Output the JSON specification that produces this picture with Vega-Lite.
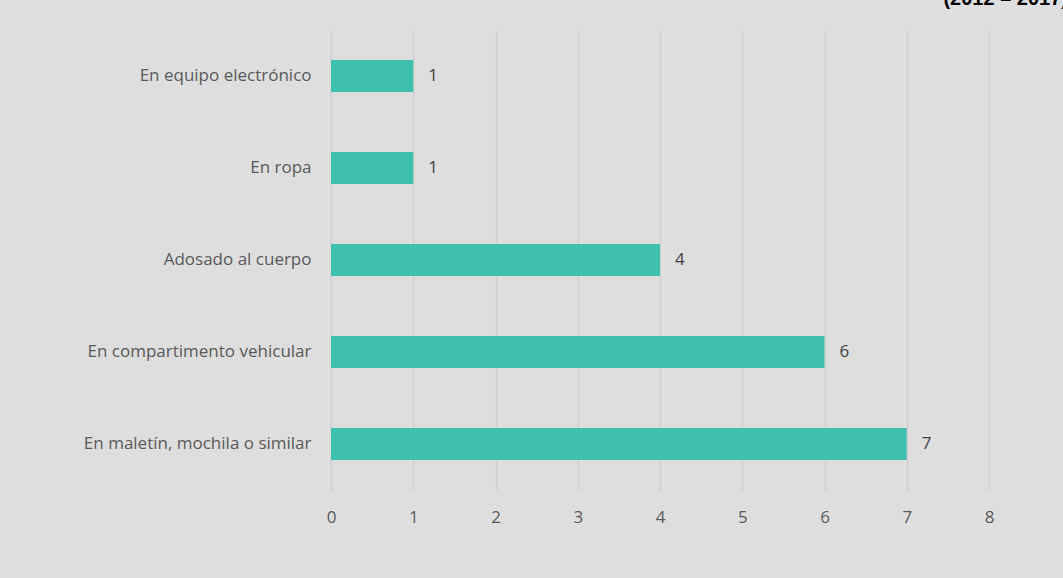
{
  "$schema": "https://vega.github.io/schema/vega-lite/v6.json",
  "autosize": "none",
  "width": 658,
  "height": 460,
  "padding": {"left": 331, "top": 30, "right": 74, "bottom": 88},
  "background": "#dedede",
  "title": {
    "text": "(2012 – 2017)",
    "anchor": "end",
    "frame": "group",
    "font": "Liberation Sans",
    "fontSize": 20,
    "fontWeight": "bold",
    "color": "#000000",
    "baseline": "alphabetic",
    "offset": 0,
    "dx": 79,
    "dy": -5
  },
  "data": {
    "values": [
      {"categoria": "En equipo electrónico", "casos": 1},
      {"categoria": "En ropa", "casos": 1},
      {"categoria": "Adosado al cuerpo", "casos": 4},
      {"categoria": "En compartimento vehicular", "casos": 6},
      {"categoria": "En maletín, mochila o similar", "casos": 7}
    ]
  },
  "config": {
    "view": {"stroke": null},
    "font": "Open Sans"
  },
  "encoding": {
    "y": {
      "field": "categoria",
      "type": "nominal",
      "sort": null,
      "scale": {"paddingInner": 0.65, "paddingOuter": 0.325},
      "axis": {
        "title": null,
        "domain": false,
        "ticks": false,
        "grid": false,
        "labelPadding": 20,
        "labelFont": "Open Sans",
        "labelFontSize": 17,
        "labelColor": "#595959",
        "labelLimit": 400
      }
    },
    "x": {
      "field": "casos",
      "type": "quantitative",
      "scale": {"domain": [0, 8], "nice": false},
      "axis": {
        "title": null,
        "values": [0, 1, 2, 3, 4, 5, 6, 7, 8],
        "labelOverlap": false,
        "labelFlush": false,
        "domain": false,
        "ticks": false,
        "grid": true,
        "gridColor": "#d0d0d0",
        "gridWidth": 1.5,
        "labelPadding": 19,
        "labelFont": "Open Sans",
        "labelFontSize": 17,
        "labelColor": "#595959"
      }
    }
  },
  "layer": [
    {"mark": {"type": "bar", "color": "#3fbfad"}},
    {
      "mark": {"type": "text", "align": "left", "dx": 15, "fontSize": 17, "font": "Open Sans", "color": "#404040"},
      "encoding": {"text": {"field": "casos", "type": "quantitative"}}
    }
  ]
}
